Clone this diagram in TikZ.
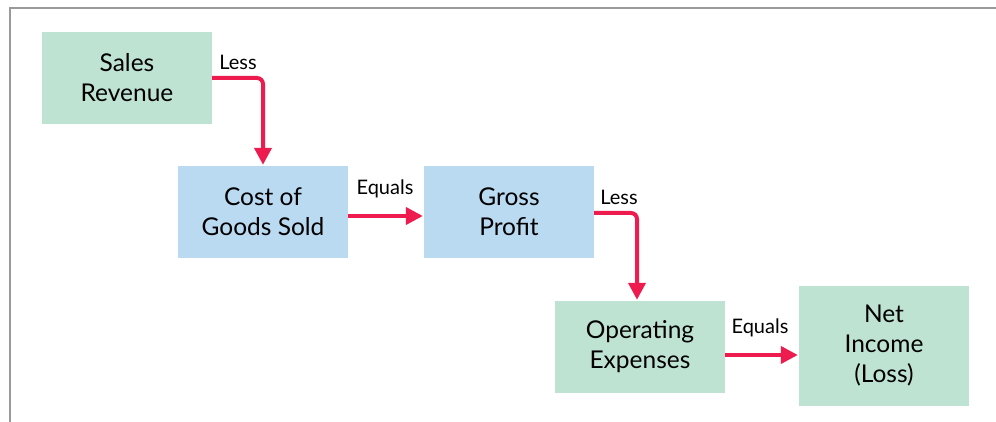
\documentclass[tikz,border=0pt]{standalone}
\usepackage{fontspec}
\setmainfont{Lato}
\usetikzlibrary{positioning,arrows.meta}
\definecolor{mint}{HTML}{BFE3D3}
\definecolor{sky}{HTML}{BADAF2}
\definecolor{flow}{HTML}{EE1C4E}
\definecolor{frame}{HTML}{9A9A9A}
\begin{document}
\begin{tikzpicture}[x=1pt, y=-1pt,
  blk/.style={minimum width=170pt, minimum height=92pt, inner sep=0pt, align=center,
    font=\fontsize{24.5}{30}\selectfont},
  gr/.style={blk, fill=mint},
  bl/.style={blk, fill=sky},
  lbl/.style={font=\fontsize{20}{22}\selectfont, inner sep=0pt},
  arr/.style={draw=flow, line width=4pt, rounded corners=6pt,
    -{Triangle[length=17pt, width=17pt]}, shorten >=1pt}]
\useasboundingbox (0,0) rectangle (996,422);
\draw[frame, line width=2pt] (10,422) -- (10,8) -- (996,8);
\node[gr] (sales) at (127,78)  {Sales\\Revenue};
\node[bl] (cogs)  at (263,212) {Cost of\\Goods Sold};
\node[bl] (gross) at (509,212) {Gross\\Profit};
\node[gr] (opex)  at (640,347) {Operating\\Expenses};
\node[gr, minimum height=120pt] (net) at (884,346) {Net\\Income\\(Loss)};
\node[lbl] (less1)   at (238,62)  {Less};
\node[lbl] (equals1) at (385,189) {Equals};
\node[lbl] (less2)   at (619,197) {Less};
\node[lbl] (equals2) at (760,328) {Equals};
\draw[arr] (sales.east) -| (cogs.north);
\draw[arr] ([yshift=-4pt]cogs.east) -- ([yshift=-4pt]gross.west);
\draw[arr] ([yshift=-1pt]gross.east) -| ([xshift=-3pt]opex.north);
\draw[arr] ([yshift=-8pt]opex.east) -- ([yshift=-8pt]opex.east -| net.west);
\end{tikzpicture}
\end{document}
